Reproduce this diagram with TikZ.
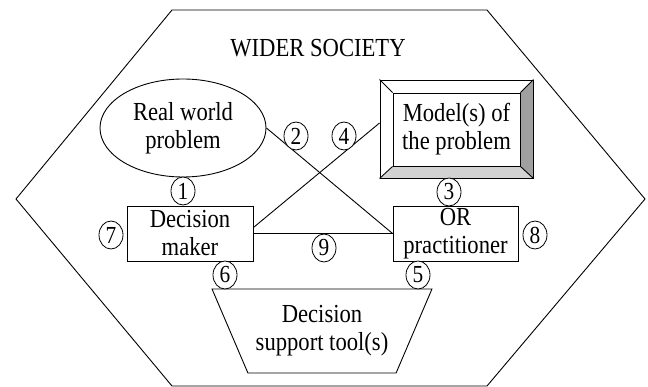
\documentclass[tikz,border=0pt]{standalone}
\usepackage{fontspec}
\setmainfont{Liberation Serif}[FakeStretch=0.87]
\usetikzlibrary{shapes.geometric,calc,backgrounds}

\definecolor{bevelDark}{RGB}{160,160,160}
\definecolor{bevelLight}{RGB}{210,210,210}

\begin{document}
\begin{tikzpicture}[x=1pt,y=-1pt,
  line width=0.9pt,
  txt/.style={font=\fontsize{26}{28}\selectfont, align=center},
  boxnode/.style={draw, rectangle, minimum width=126pt, minimum height=55pt, inner sep=0pt, txt},
  num/.style={draw, ellipse, minimum width=24pt, minimum height=28pt, inner sep=0pt, line width=0.8pt, fill=white, font=\fontsize{24.5}{24}\selectfont},
  link/.style={draw, line width=0.9pt}]
\useasboundingbox (0,0) rectangle (648,387);

% the surrounding society
\draw (16,199) -- (172,10) -- (487,10) -- (645,199) -- (487,386) -- (172,386) -- cycle;
\node[txt] (wider) at (318,48) {WIDER SOCIETY};

% the main elements
\node[draw, ellipse, minimum width=166pt, minimum height=98pt, inner sep=0pt, txt] (rwp) at (183,128) {Real world\\problem};

\node[draw, rectangle, minimum width=153pt, minimum height=98pt, inner sep=0pt] (model) at (456.5,129) {};
\node[draw, rectangle, minimum width=127pt, minimum height=73pt, inner sep=0pt, txt] (modelin) at (456.5,129.5) {Model(s) of\\the problem};
\begin{scope}[on background layer]
  \fill[bevelDark] (model.north east) -- (modelin.north east) -- (modelin.south east) -- (model.south east) -- cycle;
  \fill[bevelLight] (model.south west) -- (modelin.south west) -- (modelin.south east) -- (model.south east) -- cycle;
\end{scope}
\draw (model.north west) -- (modelin.north west);
\draw (model.north east) -- (modelin.north east);
\draw (model.south west) -- (modelin.south west);
\draw (model.south east) -- (modelin.south east);

\node[boxnode] (dm) at (190,233.5) {Decision\\maker};
\node[boxnode, minimum width=125pt] (orp) at (455.5,233.5) {OR\\practitioner};

\node[draw, trapezium, shape border rotate=180, trapezium stretches=true,
      trapezium angle=57.7, minimum width=220pt, minimum height=84pt, inner sep=0pt, txt] (dst) at (322,331) {Decision\\support tool(s)};

% connectors
\draw[link] (rwp.east) -- (orp.west);
\draw[link] ([yshift=6pt]dm.east) -- ([yshift=6pt]model.west);
\draw[link] (dm.east) -- (orp.west);

% numbered interactions
\node[num] (c1) at (183,191) {1};
\node[num] (c2) at (296,136) {2};
\node[num] (c3) at (449,192) {3};
\node[num] (c4) at (344,136) {4};
\node[num] (c5) at (418,275) {5};
\node[num] (c6) at (225,275) {6};
\node[num] (c7) at (111,235) {7};
\node[num] (c8) at (535,235) {8};
\node[num] (c9) at (324,248) {9};
\end{tikzpicture}
\end{document}
